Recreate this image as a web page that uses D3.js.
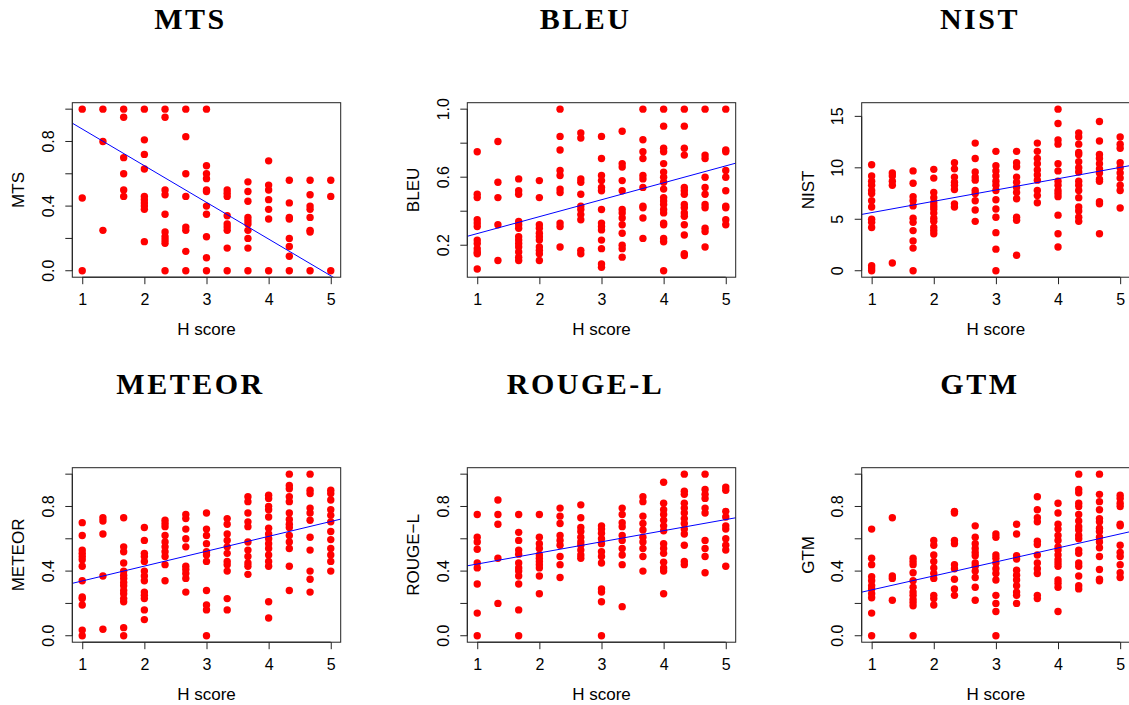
<!DOCTYPE html>
<html lang="en">
<head>
<meta charset="UTF-8">
<script src="https://cdn.jsdelivr.net/npm/d3@7"></script>
<title>Metric scores vs H score</title>
<style>
    body { margin: 0; background: white; }
    .lab { font-family: "Liberation Sans", Arial, sans-serif; font-size: 16px; fill: #000; }
    .axtitle { font-family: "Liberation Sans", Arial, sans-serif; font-size: 17px; fill: #000; }
    .title { font-family: "Liberation Serif", "Times New Roman", serif; font-weight: bold; font-size: 30px; letter-spacing: 2.5px; }
</style>
</head>
<body>
<script>
// H score columns (x values)
const hScores = [1, 1.333, 1.667, 2, 2.333, 2.667, 3, 3.333, 3.667, 4, 4.333, 4.667, 5];

// one list of metric values per H score column
const mtsValues = [
    [1.0, 0.45, 0],
    [1.0, 0.80, 0.25],
    [1.0, 0.95, 0.70, 0.60, 0.50, 0.46],
    [1.0, 0.81, 0.72, 0.63, 0.46, 0.44, 0.42, 0.40, 0.38, 0.18],
    [1.0, 0.95, 0.50, 0.47, 0.35, 0.24, 0.21, 0.19, 0.17, 0],
    [1.0, 0.83, 0.60, 0.46, 0.27, 0.25, 0.12, 0],
    [1.0, 0.65, 0.60, 0.57, 0.50, 0.49, 0.40, 0.35, 0.21, 0.08, 0],
    [0.50, 0.48, 0.46, 0.34, 0.29, 0.27, 0.25, 0.14, 0],
    [0.55, 0.49, 0.43, 0.33, 0.31, 0.29, 0.25, 0.20, 0.14, 0],
    [0.68, 0.53, 0.50, 0.44, 0.38, 0.32, 0],
    [0.56, 0.42, 0.33, 0.32, 0.20, 0.15, 0.09, 0],
    [0.56, 0.47, 0.40, 0.38, 0.33, 0.25, 0.24, 0],
    [0.56, 0.46, 0]
];

const bleuValues = [
    [0.75, 0.50, 0.48, 0.35, 0.33, 0.31, 0.23, 0.21, 0.18, 0.16, 0.15, 0.06],
    [0.81, 0.57, 0.48, 0.32, 0.11],
    [0.59, 0.52, 0.50, 0.34, 0.32, 0.30, 0.25, 0.23, 0.21, 0.19, 0.16, 0.13, 0.11],
    [0.58, 0.48, 0.32, 0.30, 0.27, 0.25, 0.23, 0.19, 0.17, 0.15, 0.11],
    [1.0, 0.84, 0.76, 0.64, 0.61, 0.53, 0.51, 0.33, 0.31, 0.19],
    [0.86, 0.83, 0.59, 0.57, 0.50, 0.43, 0.41, 0.38, 0.35, 0.17, 0.15],
    [0.84, 0.71, 0.61, 0.58, 0.54, 0.52, 0.41, 0.33, 0.31, 0.29, 0.23, 0.18, 0.09, 0.07],
    [0.87, 0.68, 0.66, 0.58, 0.52, 0.41, 0.39, 0.36, 0.32, 0.27, 0.20, 0.18, 0.13],
    [1.0, 0.82, 0.75, 0.71, 0.61, 0.59, 0.54, 0.43, 0.42, 0.36, 0.24],
    [1.0, 0.90, 0.77, 0.75, 0.68, 0.63, 0.60, 0.57, 0.53, 0.48, 0.46, 0.44, 0.41, 0.39, 0.33, 0.32, 0.24, 0.22, 0.05],
    [1.0, 0.90, 0.77, 0.73, 0.54, 0.52, 0.50, 0.44, 0.42, 0.39, 0.37, 0.32, 0.26, 0.15, 0.14],
    [1.0, 0.73, 0.71, 0.60, 0.54, 0.50, 0.44, 0.42, 0.30, 0.28, 0.19],
    [1.0, 0.76, 0.75, 0.64, 0.60, 0.52, 0.43, 0.42, 0.35, 0.32]
];

const nistValues = [
    [10.3, 9.2, 8.7, 8.3, 7.8, 7.5, 6.8, 6.2, 5.0, 4.7, 4.2, 0.5, 0.26, 0],
    [9.5, 9.2, 8.7, 8.3, 0.75],
    [9.7, 8.5, 7.2, 6.8, 6.3, 5.1, 4.7, 3.9, 2.9, 2.2, 0],
    [9.85, 9.0, 7.6, 7.1, 6.6, 6.3, 6.0, 5.6, 5.1, 4.8, 4.2, 3.9, 3.6],
    [10.5, 9.9, 9.1, 8.6, 8.3, 7.9, 6.5, 6.2],
    [12.4, 10.9, 9.6, 9.1, 8.8, 7.8, 7.5, 6.8, 5.9, 4.8],
    [11.6, 10.2, 9.7, 9.2, 8.7, 8.3, 7.8, 6.9, 6.0, 5.2, 3.7, 2.1, 0],
    [11.6, 10.5, 10.1, 9.1, 8.6, 8.1, 7.6, 7.0, 5.2, 4.9, 1.5],
    [12.4, 11.6, 10.9, 10.4, 9.8, 9.3, 8.8, 7.8, 7.3, 6.6],
    [15.7, 14.3, 12.7, 12.3, 10.4, 9.7, 8.7, 8.3, 7.8, 7.5, 7.2, 5.4, 3.6, 2.3],
    [13.4, 13.0, 12.3, 11.5, 11.3, 10.6, 10.0, 9.6, 8.7, 8.3, 7.8, 7.1, 6.2, 5.8, 5.2, 4.8],
    [14.5, 12.6, 11.3, 10.9, 10.4, 9.9, 9.5, 8.9, 8.7, 6.7, 6.5, 3.6],
    [13.0, 12.3, 11.9, 10.5, 10.0, 9.5, 9.0, 8.3, 7.8, 6.1]
];

const meteorValues = [
    [0.70, 0.62, 0.53, 0.51, 0.49, 0.47, 0.43, 0.34, 0.24, 0.23, 0.19, 0.035, 0],
    [0.73, 0.71, 0.63, 0.37, 0.04],
    [0.73, 0.55, 0.52, 0.45, 0.40, 0.375, 0.355, 0.33, 0.31, 0.28, 0.26, 0.23, 0.21, 0.05, 0],
    [0.67, 0.59, 0.51, 0.49, 0.46, 0.40, 0.37, 0.34, 0.27, 0.25, 0.23, 0.16, 0.10],
    [0.715, 0.695, 0.675, 0.62, 0.58, 0.55, 0.52, 0.49, 0.44, 0.34],
    [0.75, 0.725, 0.66, 0.60, 0.55, 0.43, 0.41, 0.385, 0.355, 0.27],
    [0.76, 0.66, 0.62, 0.57, 0.52, 0.50, 0.46, 0.28, 0.19, 0.16, 0],
    [0.725, 0.69, 0.63, 0.59, 0.55, 0.51, 0.46, 0.44, 0.40, 0.23, 0.16],
    [0.86, 0.83, 0.76, 0.705, 0.675, 0.58, 0.53, 0.49, 0.45, 0.43, 0.38],
    [0.87, 0.85, 0.80, 0.78, 0.735, 0.665, 0.63, 0.60, 0.57, 0.54, 0.50, 0.46, 0.43, 0.21, 0.11],
    [1.0, 0.93, 0.91, 0.86, 0.83, 0.76, 0.72, 0.69, 0.67, 0.62, 0.58, 0.54, 0.43, 0.28],
    [1.0, 0.90, 0.88, 0.79, 0.76, 0.715, 0.61, 0.53, 0.40, 0.35, 0.27],
    [0.90, 0.88, 0.84, 0.78, 0.745, 0.705, 0.645, 0.595, 0.54, 0.50, 0.46, 0.40]
];

const rougeValues = [
    [0.75, 0.61, 0.58, 0.535, 0.45, 0.42, 0.32, 0.14, 0],
    [0.84, 0.75, 0.69, 0.48, 0.20],
    [0.75, 0.64, 0.59, 0.53, 0.505, 0.45, 0.42, 0.40, 0.37, 0.32, 0.16, 0],
    [0.75, 0.61, 0.57, 0.54, 0.50, 0.48, 0.46, 0.44, 0.42, 0.37, 0.26],
    [0.79, 0.74, 0.695, 0.62, 0.59, 0.56, 0.49, 0.44, 0.36],
    [0.81, 0.73, 0.67, 0.645, 0.61, 0.58, 0.56, 0.53, 0.50, 0.48],
    [0.68, 0.66, 0.635, 0.60, 0.57, 0.52, 0.49, 0.45, 0.29, 0.27, 0.21, 0],
    [0.79, 0.75, 0.70, 0.675, 0.62, 0.59, 0.54, 0.50, 0.44, 0.18],
    [0.86, 0.83, 0.74, 0.695, 0.655, 0.61, 0.58, 0.54, 0.49, 0.40],
    [0.95, 0.82, 0.78, 0.75, 0.715, 0.68, 0.65, 0.57, 0.54, 0.51, 0.455, 0.42, 0.40, 0.26],
    [1.0, 0.895, 0.875, 0.82, 0.79, 0.76, 0.725, 0.695, 0.66, 0.63, 0.56, 0.46, 0.44],
    [1.0, 0.905, 0.875, 0.85, 0.79, 0.76, 0.59, 0.54, 0.49, 0.39],
    [0.92, 0.90, 0.77, 0.735, 0.68, 0.66, 0.60, 0.56, 0.53, 0.43]
];

const gtmValues = [
    [0.66, 0.48, 0.44, 0.365, 0.34, 0.31, 0.29, 0.26, 0.235, 0.14, 0],
    [0.73, 0.37, 0.355, 0.22],
    [0.48, 0.46, 0.44, 0.39, 0.34, 0.30, 0.27, 0.25, 0.225, 0.205, 0.185, 0],
    [0.59, 0.56, 0.50, 0.46, 0.42, 0.385, 0.355, 0.25, 0.23, 0.19],
    [0.77, 0.76, 0.59, 0.57, 0.44, 0.415, 0.35, 0.29, 0.25],
    [0.68, 0.61, 0.57, 0.54, 0.515, 0.495, 0.45, 0.43, 0.40, 0.36, 0.30, 0.22],
    [0.63, 0.61, 0.50, 0.48, 0.45, 0.415, 0.385, 0.345, 0.25, 0.20, 0.15, 0],
    [0.69, 0.63, 0.495, 0.475, 0.405, 0.375, 0.345, 0.31, 0.27, 0.25, 0.20],
    [0.86, 0.78, 0.73, 0.705, 0.585, 0.565, 0.50, 0.45, 0.415, 0.385, 0.25, 0.23],
    [0.82, 0.76, 0.69, 0.66, 0.62, 0.59, 0.55, 0.53, 0.50, 0.47, 0.45, 0.43, 0.345, 0.325, 0.30, 0.15],
    [1.0, 0.905, 0.885, 0.82, 0.80, 0.75, 0.71, 0.675, 0.655, 0.62, 0.60, 0.53, 0.51, 0.45, 0.43, 0.37, 0.31, 0.29],
    [1.0, 0.875, 0.83, 0.78, 0.725, 0.705, 0.665, 0.645, 0.61, 0.58, 0.545, 0.49, 0.41, 0.35, 0.34],
    [0.87, 0.85, 0.82, 0.80, 0.69, 0.68, 0.56, 0.515, 0.49, 0.44, 0.39, 0.36]
];

// panel names and fitted line (intercept, slope)
const metricNames = ["MTS", "BLEU", "NIST", "METEOR", "ROUGE-L", "GTM"];
const yAxisLabels = ["MTS", "BLEU", "NIST", "METEOR", "ROUGE\u2212L", "GTM"];
const fitIntercepts = [1.104, 0.169, 4.55, 0.247, 0.375, 0.197];
const fitSlopes = [-0.227, 0.0995, 1.098, 0.092, 0.0688, 0.0866];
const xTicks = [1, 2, 3, 4, 5];
const yTicksUnit = [0, 0.2, 0.4, 0.6, 0.8, 1.0];
const yLabelsUnit = [0, 0.4, 0.8];
const yTicksBleu = [0.2, 0.4, 0.6, 0.8, 1.0];
const yLabelsBleu = [0.2, 0.6, 1.0];
const yTicksNist = [0, 5, 10, 15];

const allValues = [mtsValues, bleuValues, nistValues, meteorValues, rougeValues, gtmValues];
const panels = metricNames.map((name, i) => ({
    name,
    ylab: yAxisLabels[i],
    values: allValues[i],
    a: fitIntercepts[i],
    b: fitSlopes[i],
    yTicks: i === 1 ? yTicksBleu : (i === 2 ? yTicksNist : yTicksUnit),
    yLabels: i === 1 ? yLabelsBleu : (i === 2 ? yTicksNist : yLabelsUnit),
    fmt: i === 2 ? d3.format("d") : d3.format(".1f")
}));

// layout (plot box per panel)
const width = 1129, height = 705;
const colLeft = [72.3, 467.3, 861.7];
const rowTop = [102.7, 467.7];
const boxW = 268.4, boxH = 174.5;

const svg = d3.select("body").append("svg")
    .attr("width", width)
    .attr("height", height);

// R style range: data extent padded 4% each side
const padExtent = ext => {
    const d = (ext[1] - ext[0]) * 0.04;
    return [ext[0] - d, ext[1] + d];
};

panels.forEach((p, i) => {
    const left = colLeft[i % 3];
    const top = rowTop[Math.floor(i / 3)];

    const points = [];
    hScores.forEach((h, j) => p.values[j].forEach(v => points.push({ h, v })));

    const x = d3.scaleLinear().domain(padExtent(d3.extent(hScores))).range([left, left + boxW]);
    const y = d3.scaleLinear().domain(padExtent(d3.extent(points, d => d.v))).range([top + boxH, top]);

    const g = svg.append("g");

    g.append("clipPath").attr("id", "clip" + i)
        .append("rect")
        .attr("x", left).attr("y", top)
        .attr("width", boxW).attr("height", boxH);

    // points
    g.selectAll("circle")
        .data(points)
        .enter()
        .append("circle")
        .attr("cx", d => x(d.h))
        .attr("cy", d => y(d.v))
        .attr("r", 3.7)
        .attr("fill", "#ff0000");

    // fitted line
    const xd = x.domain();
    g.append("line")
        .attr("clip-path", `url(#clip${i})`)
        .attr("x1", x(xd[0])).attr("y1", y(p.a + p.b * xd[0]))
        .attr("x2", x(xd[1])).attr("y2", y(p.a + p.b * xd[1]))
        .attr("stroke", "#0000ff")
        .attr("stroke-width", 1);

    // box
    g.append("rect")
        .attr("x", left).attr("y", top)
        .attr("width", boxW).attr("height", boxH)
        .attr("fill", "none")
        .attr("stroke", "#222")
        .attr("stroke-width", 1);

    // x axis
    const xAxis = g.append("g")
        .attr("transform", `translate(0,${top + boxH})`)
        .call(d3.axisBottom(x).tickValues(xTicks).tickSize(7).tickPadding(9).tickFormat(d3.format("d")));
    xAxis.select(".domain").remove();
    xAxis.selectAll(".tick line").attr("stroke", "#222");
    xAxis.append("line")
        .attr("x1", x(xTicks[0])).attr("x2", x(xTicks[xTicks.length - 1]))
        .attr("stroke", "#222");
    xAxis.attr("font-family", null).attr("font-size", null);
    xAxis.selectAll("text").attr("class", "lab").attr("fill", null);

    // y axis, R style with rotated labels
    const yAxis = g.append("g");
    yAxis.append("line")
        .attr("x1", left).attr("x2", left)
        .attr("y1", y(p.yTicks[0])).attr("y2", y(p.yTicks[p.yTicks.length - 1]))
        .attr("stroke", "#222");
    yAxis.selectAll("line.tk")
        .data(p.yTicks)
        .enter()
        .append("line")
        .attr("class", "tk")
        .attr("x1", left - 7).attr("x2", left)
        .attr("y1", d => y(d)).attr("y2", d => y(d))
        .attr("stroke", "#222");
    yAxis.selectAll("text")
        .data(p.yLabels)
        .enter()
        .append("text")
        .attr("class", "lab")
        .attr("transform", d => `translate(${left - 24},${y(d)}) rotate(-90)`)
        .attr("text-anchor", "middle")
        .attr("dy", "0.35em")
        .text(d => p.fmt(d));

    // axis titles
    g.append("text")
        .attr("class", "axtitle")
        .attr("x", left + boxW / 2)
        .attr("y", top + boxH + 58)
        .attr("text-anchor", "middle")
        .text("H score");
    g.append("text")
        .attr("class", "axtitle")
        .attr("transform", `translate(${left - 54},${top + boxH / 2}) rotate(-90)`)
        .attr("text-anchor", "middle")
        .attr("dy", "0.35em")
        .text(p.ylab);

    // panel title
    g.append("text")
        .attr("class", "title")
        .attr("x", left + boxW / 2 - 16)
        .attr("y", top - 73.5)
        .attr("text-anchor", "middle")
        .text(p.name);
});
</script>
</body>
</html>
